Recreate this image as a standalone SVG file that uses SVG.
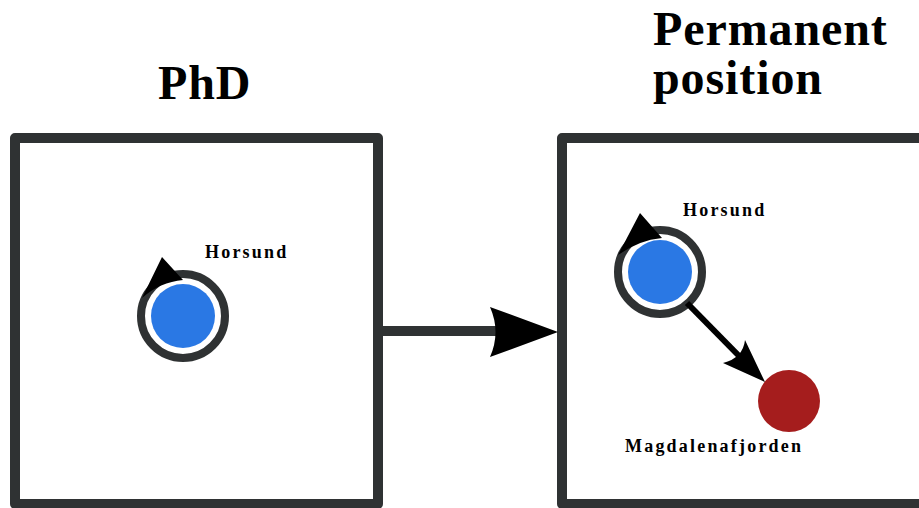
<svg xmlns="http://www.w3.org/2000/svg" width="919" height="508" viewBox="0 0 919 508">
  <style>
    .frame { fill: none; stroke: #2f3233; stroke-width: 10; stroke-linejoin: round; }
    .title { font-family: "Liberation Serif", serif; font-weight: bold; font-size: 48px; fill: #000; letter-spacing: 0.9px; }
    .label { font-family: "Liberation Serif", serif; font-weight: bold; font-size: 18px; fill: #000; letter-spacing: 2.2px; }
    .ring { fill: #fff; stroke: #2f3233; stroke-width: 8; }
    .site { fill: #2a78e4; }
    .dest { fill: #a51d1d; }
    .head { fill: #000; }
  </style>

  <!-- stage panels -->
  <g id="panel-phd">
    <rect class="frame" x="15" y="138" width="363" height="366"/>
    <text class="title" x="158" y="99">PhD</text>
  </g>
  <g id="panel-permanent">
    <rect class="frame" x="562" y="138" width="400" height="366"/>
    <text class="title" x="653" y="45">Permanent</text>
    <text class="title" x="653" y="94">position</text>
  </g>

  <!-- nodes -->
  <g id="node-horsund-phd">
    <circle class="ring" cx="183" cy="316" r="42"/>
    <circle class="site" cx="183" cy="316" r="32"/>
    <text class="label" x="205" y="258">Horsund</text>
  </g>
  <g id="node-horsund-perm">
    <circle class="ring" cx="660" cy="272" r="42"/>
    <circle class="site" cx="660" cy="272" r="32"/>
    <text class="label" x="683" y="216">Horsund</text>
  </g>
  <g id="node-magdalenafjorden">
    <circle class="dest" cx="789" cy="401" r="31"/>
    <text class="label" x="625" y="452">Magdalenafjorden</text>
  </g>

  <!-- connectors -->
  <g id="connectors">
    <line x1="383" y1="331" x2="500" y2="331" stroke="#2f3233" stroke-width="10"/>
    <path class="head" d="M558,332 L490,307 Q501,332 490,357 Z"/>
    <line x1="687" y1="303" x2="745" y2="362" stroke="#000" stroke-width="6"/>
    <path class="head" d="M765,382 L745,340 Q743,358 723,363 Z"/>
    <!-- self-loop heads on the Horsund rings -->
    <path class="head" d="M162,257 L183,280 Q160,282 142,298 Z"/>
    <path class="head" d="M640,213 L662,238 Q639,240 618,255 Z"/>
  </g>
</svg>
